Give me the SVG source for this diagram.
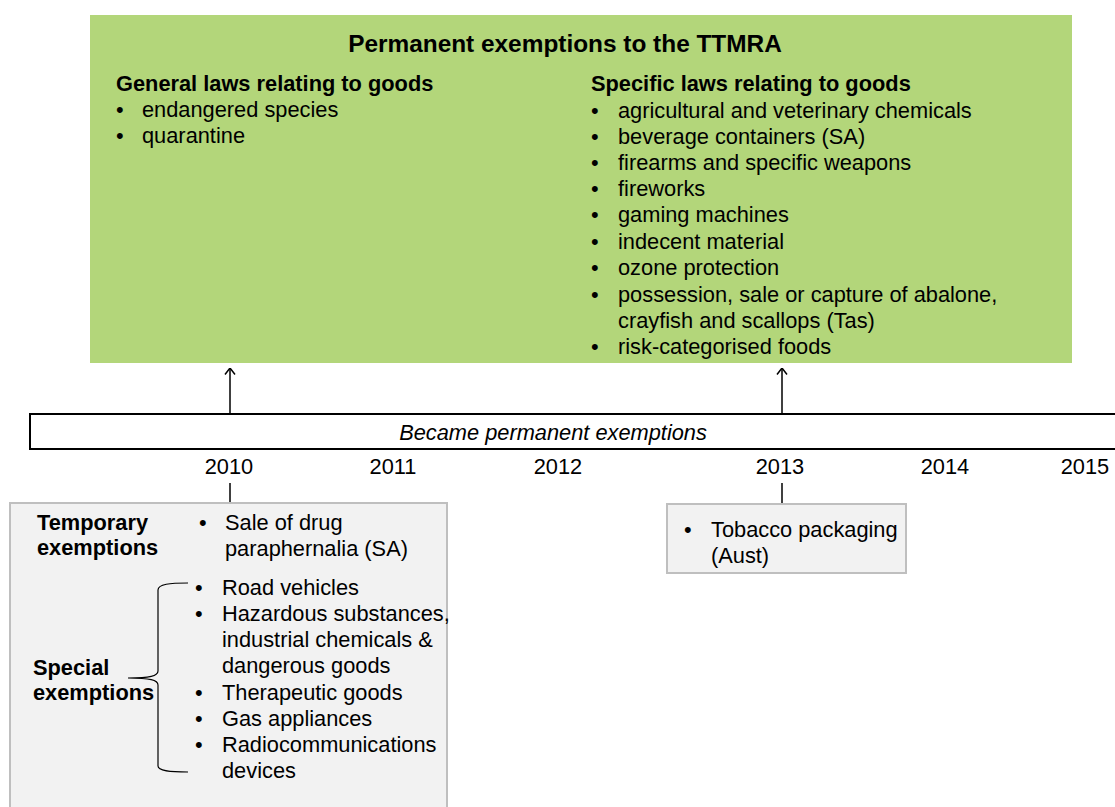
<svg xmlns="http://www.w3.org/2000/svg" width="1115" height="807" viewBox="0 0 1115 807">
<defs>
<style>
text{font-family:"Liberation Sans",Arial,sans-serif;font-size:21.8px;fill:#000}
.b{font-weight:bold}
.t{font-size:24.4px}
.i{font-style:italic}
.c{text-anchor:middle}
.gray{fill:#f2f2f2;stroke:#bfbfbf;stroke-width:2}
.ln{stroke:#000;stroke-width:1.5;fill:none}
</style>
<marker id="ah" viewBox="0 0 10 12" refX="9.5" refY="6" markerWidth="10" markerHeight="12" markerUnits="userSpaceOnUse" orient="auto">
<path d="M3,1 L9.5,6 L3,11" fill="none" stroke="#000" stroke-width="1.5"/>
</marker>
</defs>
<rect width="1115" height="807" fill="#fff"/>
<g id="permanent">
<rect x="90" y="15" width="982" height="348" fill="#b3d67a"/>
<text x="565" y="52" class="b c t">Permanent exemptions to the TTMRA</text>
<text x="116" y="91" class="b">General laws relating to goods</text>
<text x="116" y="117">•</text><text x="142" y="117">endangered species</text>
<text x="116" y="143">•</text><text x="142" y="143">quarantine</text>
<text x="591" y="91" class="b">Specific laws relating to goods</text>
<text x="591" y="118">•</text><text x="618" y="118">agricultural and veterinary chemicals</text>
<text x="591" y="144">•</text><text x="618" y="144">beverage containers (SA)</text>
<text x="591" y="170">•</text><text x="618" y="170">firearms and specific weapons</text>
<text x="591" y="196">•</text><text x="618" y="196">fireworks</text>
<text x="591" y="222">•</text><text x="618" y="222">gaming machines</text>
<text x="591" y="249">•</text><text x="618" y="249">indecent material</text>
<text x="591" y="275">•</text><text x="618" y="275">ozone protection</text>
<text x="591" y="302">•</text><text x="618" y="302">possession, sale or capture of abalone,</text>
<text x="618" y="328">crayfish and scallops (Tas)</text>
<text x="591" y="354">•</text><text x="618" y="354">risk-categorised foods</text>
</g>
<g id="timeline">
<rect x="30" y="414" width="1100" height="35" fill="#fff" stroke="#000" stroke-width="2"/>
<text x="553" y="440" class="i c">Became permanent exemptions</text>
</g>
<g id="years">
<text x="229" y="474" class="c">2010</text>
<text x="393" y="474" class="c">2011</text>
<text x="558" y="474" class="c">2012</text>
<text x="780" y="474" class="c">2013</text>
<text x="945" y="474" class="c">2014</text>
<text x="1085" y="474" class="c">2015</text>
</g>
<g id="connectors">
<line x1="230" y1="414" x2="230" y2="368" class="ln" marker-end="url(#ah)"/>
<line x1="782" y1="414" x2="782" y2="368" class="ln" marker-end="url(#ah)"/>
<line x1="230" y1="483" x2="230" y2="503" class="ln"/>
<line x1="782" y1="483" x2="782" y2="504" class="ln"/>
</g>
<g id="temp-special">
<rect x="10" y="503" width="437" height="320" class="gray"/>
<text x="37" y="530" class="b">Temporary</text>
<text x="37" y="555" class="b">exemptions</text>
<text x="199" y="530">•</text><text x="225" y="530">Sale of drug</text>
<text x="225" y="556">paraphernalia (SA)</text>
<text x="33" y="675" class="b">Special</text>
<text x="33" y="700" class="b">exemptions</text>
<path d="M188,583 C170,583 158,584 158,590 L158,671 C158,676 150,678 128,678 C150,678 158,680 158,685 L158,766 C158,771 170,772 188,772" fill="none" stroke="#000" stroke-width="1.2"/>
<text x="195" y="595">•</text><text x="222" y="595">Road vehicles</text>
<text x="195" y="621">•</text><text x="222" y="621">Hazardous substances,</text>
<text x="222" y="647">industrial chemicals &amp;</text>
<text x="222" y="673">dangerous goods</text>
<text x="195" y="700">•</text><text x="222" y="700">Therapeutic goods</text>
<text x="195" y="726">•</text><text x="222" y="726">Gas appliances</text>
<text x="195" y="752">•</text><text x="222" y="752">Radiocommunications</text>
<text x="222" y="778">devices</text>
</g>
<g id="tobacco">
<rect x="667" y="504" width="239" height="69" class="gray"/>
<text x="684" y="537">•</text><text x="711" y="537">Tobacco packaging</text>
<text x="711" y="563">(Aust)</text>
</g>
</svg>
